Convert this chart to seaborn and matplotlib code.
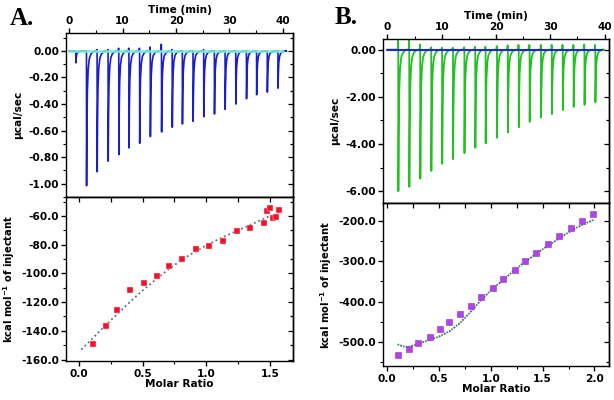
import numpy as np
import pandas as pd
import matplotlib
matplotlib.use("Agg")
import matplotlib.pyplot as plt
from matplotlib.ticker import MultipleLocator, FuncFormatter
import seaborn as sns

# ---------------- data ----------------
# Panel A raw thermogram: injection times (min) and peak heights (ucal/sec)
a_inj_time = [1.25, 3.25, 5.24, 7.3, 9.3, 11.2, 13.2, 15.2, 17.3, 19.3,
              21.2, 23.2, 25.2, 27.2, 29.2, 31.2, 33.2, 35.1, 37.1, 39.1]
a_inj_peak = [-0.09, -1.015, -0.91, -0.83, -0.78, -0.73, -0.695, -0.645, -0.61, -0.575,
              -0.55, -0.53, -0.495, -0.475, -0.44, -0.40, -0.36, -0.33, -0.31, -0.28]
a_inj_over = [0.0, 0.0, 0.01, 0.01, 0.02, 0.02, 0.02, 0.03, 0.05, 0.01,
              0.0, 0.0, 0.01, 0.0, 0.0, 0.0, 0.0, 0.0, 0.0, 0.0]

# Panel A integrated heats
a_ratio = [0.11, 0.21, 0.30, 0.40, 0.51, 0.61, 0.71, 0.81, 0.92, 1.02,
           1.13, 1.24, 1.34, 1.45, 1.48, 1.50, 1.52, 1.55, 1.57]
a_heat = [-149.1, -136.4, -125.3, -111.9, -106.8, -101.7, -95.0, -89.9, -83.1, -80.8,
          -77.1, -70.4, -68.3, -64.9, -56.8, -54.4, -61.4, -60.7, -55.8]
a_fit_x = [0.02, 0.1, 0.2, 0.3, 0.4, 0.5, 0.6, 0.7, 0.8, 0.9, 1.0, 1.1, 1.2, 1.3, 1.4, 1.5]
a_fit_y = [-153, -146, -137, -128.5, -120, -112, -104.5, -97.5, -91, -85.5, -80.5, -76, -72, -68, -64, -60]

# Panel B raw thermogram
b_inj_time = [2.03, 4.05, 6.07, 8.1, 10.1, 12.1, 14.2, 16.2, 18.1, 20.2,
              22.2, 24.2, 26.2, 28.3, 30.3, 32.3, 34.3, 36.3, 38.3]
b_inj_peak = [-6.0, -5.82, -5.47, -5.14, -4.84, -4.64, -4.39, -4.16, -3.97, -3.74,
              -3.51, -3.29, -3.06, -2.88, -2.73, -2.56, -2.43, -2.34, -2.23]
b_inj_over = [0.40, 0.38, 0.22, 0.10, 0.08, 0.08, 0.10, 0.12, 0.12, 0.15,
              0.18, 0.20, 0.20, 0.20, 0.20, 0.20, 0.20, 0.22, 0.20]

# Panel B integrated heats
b_ratio = [0.105, 0.21, 0.30, 0.41, 0.51, 0.60, 0.70, 0.81, 0.91, 1.02,
           1.12, 1.23, 1.33, 1.44, 1.55, 1.66, 1.77, 1.88, 1.99]
b_heat = [-532, -519, -503, -488, -469, -450, -431, -411, -388, -366,
          -345, -322, -300, -278, -257, -237, -217, -200, -183]
b_fit_x = [0.1, 0.15, 0.2, 0.3, 0.4, 0.5, 0.6, 0.7, 0.8, 0.9, 1.0, 1.1, 1.2, 1.3, 1.4, 1.5, 1.6, 1.7, 1.8, 1.9, 2.0]
b_fit_y = [-506, -511, -513, -505, -496, -487, -474, -454, -427, -398, -372, -350, -328, -307, -288, -270, -253, -236, -220, -207, -196]

# ---------------- style ----------------
sns.set_style("ticks")
plt.rcParams['font.family'] = ['DejaVu Sans']
plt.rcParams['font.weight'] = 'bold'
plt.rcParams['axes.linewidth'] = 1.0
plt.rcParams['axes.unicode_minus'] = False
for k in ('text.color', 'axes.labelcolor', 'xtick.color', 'ytick.color', 'axes.edgecolor'):
    plt.rcParams[k] = 'black'

TICK_FS = 7.6
LAB_FS = 7.6

# spike shape (drawing template, relative offsets)
SH_DT = [-0.3, -0.1, -0.02, 0.0, 0.06, 0.15, 0.3, 0.5, 0.8, 1.15, 1.6]
SH_FR = [0.0, 0.0, 0.0, 1.0, 0.6, 0.3, 0.14, 0.06, 0.025, 0.008, 0.0]


def build_trace(times, peaks, overs, t0=0.0, t1=40.0):
    xs, ys = [t0], [0.0]
    for t, p, o in zip(times, peaks, overs):
        for dt, fr in zip(SH_DT, SH_FR):
            xs.append(t + dt)
            ys.append(p * fr)
            if dt == -0.1 and o:
                xs.append(t - 0.06)
                ys.append(o)
    xs.append(t1)
    ys.append(0.0)
    return pd.DataFrame({"t": xs, "q": ys})


fig = plt.figure(figsize=(6.14, 4.0), dpi=100)
W, H = 614.0, 400.0


def add_ax(l, t, r, b):
    return fig.add_axes([l / W, 1 - b / H, (r - l) / W, (b - t) / H])


axA1 = add_ax(66, 33, 293, 197)
axA2 = add_ax(66, 197, 293, 361)
axB1 = add_ax(383, 39, 609, 203)
axB2 = add_ax(383, 203, 609, 366)

# ---- A top ----
dfA = build_trace(a_inj_time, a_inj_peak, a_inj_over)
sns.lineplot(data=dfA, x="t", y="q", ax=axA1, sort=False, estimator=None,
             color="#1a1ecc", lw=1.2)
sns.lineplot(x=[0, 40], y=[0, 0], ax=axA1, color="#6ff0d6", lw=2.0, alpha=0.9)
axA1.set_xlim(-0.6, 41.9)
axA1.set_ylim(-1.10, 0.135)
axA1.set_yticks(np.arange(-1.0, 0.01, 0.2))

# ---- B top ----
dfB = build_trace(b_inj_time, b_inj_peak, b_inj_over, 0.0, 39.5)
sns.lineplot(data=dfB, x="t", y="q", ax=axB1, sort=False, estimator=None,
             color="#22c022", lw=1.3)
sns.lineplot(x=[0, 39.5], y=[0, 0], ax=axB1, color="#2424d0", lw=1.5)
axB1.set_xlim(-0.8, 40.8)
axB1.set_ylim(-6.5, 0.45)
axB1.set_yticks(np.arange(-6.0, 0.01, 2.0))

fmt2 = FuncFormatter(lambda v, p: "0.00" if abs(v) < 1e-9 else f"{v:.2f}")
fmt1 = FuncFormatter(lambda v, p: f"{v:.1f}")

for ax, ymin in [(axA1, 0.1), (axB1, 1.0)]:
    ax.xaxis.set_label_position("top")
    ax.xaxis.tick_top()
    ax.xaxis.set_major_locator(MultipleLocator(10))
    ax.xaxis.set_minor_locator(MultipleLocator(5))
    ax.yaxis.set_minor_locator(MultipleLocator(ymin))
    ax.yaxis.set_major_formatter(fmt2)
    ax.tick_params(axis="x", which="major", top=True, bottom=False, direction="out",
                   length=3.5, width=1.0, labelsize=TICK_FS, pad=1.5)
    ax.tick_params(axis="x", which="minor", top=True, bottom=False, direction="out",
                   length=2, width=0.8)
    ax.tick_params(axis="y", which="major", left=True, right=False, direction="out",
                   length=3.5, width=1.0, labelsize=TICK_FS, pad=1.5)
    ax.tick_params(axis="y", which="minor", left=True, right=False, direction="out",
                   length=2, width=0.8)
    ax.set_xlabel("Time (min)", fontsize=LAB_FS, fontweight="bold", labelpad=2)
    ax.set_ylabel("µcal/sec", fontsize=LAB_FS, fontweight="bold", labelpad=4)
    sec = ax.secondary_yaxis("right")
    sec.set_yticks(ax.get_yticks())
    sec.yaxis.set_minor_locator(MultipleLocator(ymin))
    sec.tick_params(axis="y", which="both", direction="in", labelright=False, width=0.9)
    sec.tick_params(axis="y", which="major", length=3.5)
    sec.tick_params(axis="y", which="minor", length=2)

# ---- A bottom ----
sns.lineplot(x=a_fit_x, y=a_fit_y, ax=axA2, color="#56708c", lw=1.3,
             linestyle=(0, (1, 1.6)))
sns.scatterplot(x=a_ratio, y=a_heat, ax=axA2, marker="s", s=22, color="#f5102e",
                edgecolor="#ffe9d0", linewidth=0.3, zorder=3)
axA2.set_xlim(-0.10, 1.68)
axA2.set_ylim(-161, -46.8)
axA2.yaxis.set_major_locator(MultipleLocator(20))
axA2.yaxis.set_minor_locator(MultipleLocator(10))

# ---- B bottom ----
sns.lineplot(x=b_fit_x, y=b_fit_y, ax=axB2, color="#3a9a3a", lw=1.3,
             linestyle=(0, (1, 2.2)))
sns.lineplot(x=b_fit_x, y=b_fit_y, ax=axB2, color="#3a5aa8", lw=1.3,
             linestyle=(1.6, (1, 2.2)))
sns.scatterplot(x=b_ratio, y=b_heat, ax=axB2, marker="s", s=20, color="#b243e6",
                edgecolor="#9530c8", linewidth=0.4, zorder=3)
axB2.set_xlim(-0.04, 2.14)
axB2.set_ylim(-560, -155)
axB2.yaxis.set_major_locator(MultipleLocator(100))
axB2.yaxis.set_minor_locator(MultipleLocator(50))

for ax, ymaj, ymin in [(axA2, 20, 10), (axB2, 100, 50)]:
    ax.xaxis.set_major_locator(MultipleLocator(0.5))
    ax.xaxis.set_minor_locator(MultipleLocator(0.25))
    ax.yaxis.set_major_formatter(fmt1)
    ax.tick_params(axis="x", which="major", bottom=True, top=False, direction="out",
                   length=3.5, width=1.0, labelsize=TICK_FS, pad=2)
    ax.tick_params(axis="x", which="minor", bottom=True, top=False, direction="out",
                   length=2, width=0.8)
    ax.tick_params(axis="y", which="major", left=True, right=False, direction="out",
                   length=3.5, width=1.0, labelsize=TICK_FS, pad=1.5)
    ax.tick_params(axis="y", which="minor", left=True, right=False, direction="out",
                   length=2, width=0.8)
    ax.set_xlabel("Molar Ratio", fontsize=LAB_FS, fontweight="bold", labelpad=0.5)
    ax.set_ylabel("kcal mol$^{\\mathbf{-1}}$ of injectant", fontsize=7.2,
                  fontweight="bold", labelpad=3)
    # inward ticks on top and right edges
    secx = ax.secondary_xaxis("top")
    secx.xaxis.set_major_locator(MultipleLocator(0.5))
    secx.xaxis.set_minor_locator(MultipleLocator(0.25))
    secx.tick_params(axis="x", which="both", direction="in", labeltop=False, width=0.9)
    secx.tick_params(axis="x", which="major", length=3.5)
    secx.tick_params(axis="x", which="minor", length=3.5)
    secy = ax.secondary_yaxis("right")
    secy.yaxis.set_major_locator(MultipleLocator(ymaj))
    secy.yaxis.set_minor_locator(MultipleLocator(ymin))
    secy.tick_params(axis="y", which="both", direction="in", labelright=False, width=0.9)
    secy.tick_params(axis="y", which="major", length=3.5)
    secy.tick_params(axis="y", which="minor", length=2)

for ax in (axA1, axA2, axB1, axB2):
    for s in ax.spines.values():
        s.set_visible(True)
        s.set_color("black")
    for lbl in ax.get_xticklabels() + ax.get_yticklabels():
        lbl.set_fontweight("bold")

fig.text(10 / W, 1 - 25 / H, "A.", fontsize=18, fontweight="bold",
         family="Liberation Serif", ha="left", va="baseline")
fig.text(335 / W, 1 - 24 / H, "B.", fontsize=18, fontweight="bold",
         family="Liberation Serif", ha="left", va="baseline")

fig.savefig("out.png", dpi=100, facecolor="white")
